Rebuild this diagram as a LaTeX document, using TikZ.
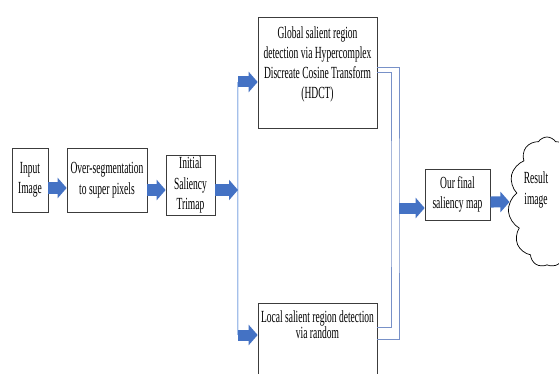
\documentclass[tikz,border=0pt]{standalone}
\usepackage{fontspec}
\setmainfont{Liberation Serif}[FakeStretch=0.56]
\usetikzlibrary{arrows.meta,shapes.symbols}
\definecolor{arrowblue}{RGB}{68,114,196}
\definecolor{lineblue}{RGB}{165,192,234}
\definecolor{bracketblue}{RGB}{120,145,200}
\definecolor{boxgray}{RGB}{60,60,60}
\begin{document}
\begin{tikzpicture}[x=1pt,y=-1pt,
  box/.style={draw=boxgray, line width=0.7pt, align=center, inner sep=1pt,
    font=\fontsize{17}{20.5}\selectfont},
  txt/.style={align=center, inner sep=0pt, font=\fontsize{17}{20.5}\selectfont},
  barrow/.style={draw=arrowblue, line width=11pt, -{Triangle[width=20pt,length=9pt]}},
  vline/.style={draw=lineblue, line width=2pt},
  bline/.style={draw=bracketblue, line width=0.7pt},
]
\useasboundingbox (0,0) rectangle (559,374);

% boxes
\node[box, minimum width=36pt, minimum height=64pt] (in) at (30,180) {Input\\Image};
\node[box, minimum width=80pt, minimum height=64pt] (os) at (107,180) {Over-segmentation\\to super pixels};
\node[box, minimum width=49pt, minimum height=60pt] (tri) at (190.5,185) {Initial\\Saliency\\Trimap};
\node[box, minimum width=119pt, minimum height=111pt] (gl) at (317.5,72.5) {};
\node[txt, font=\fontsize{17}{20}\selectfont] (glt) at (317.5,64) {Global salient region\\detection via Hypercomplex\\Discreate Cosine Transform\\(HDCT)};
\node[box, minimum width=119pt, minimum height=82pt] (lo) at (317.5,344) {};
\node[txt, font=\fontsize{17}{16}\selectfont] (lot) at (317.5,325) {Local salient region detection\\via random};
\node[box, minimum width=65pt, minimum height=51pt] (fin) at (457.5,194.5) {Our final\\saliency map};
\node[cloud, draw=black, line width=0.7pt, cloud puffs=11, cloud puff arc=115,
      aspect=0.6, minimum width=78pt, minimum height=130pt, inner sep=0pt] (cl) at (547,202) {};
\node[txt] (clt) at (536,190) {Result\\image};

% helper coordinates
\coordinate (ltop) at (238,82);
\coordinate (lmid) at (238,190);
\coordinate (lbot) at (238,335);
\coordinate (rox) at (399,208);
\coordinate (rix) at (391,208);

% left splitter line
\draw[vline] (ltop) -- (lbot);
\draw[draw=white!60!lineblue, line width=0.6pt] (ltop) -- (lbot);

% right bracket lines
\draw[bline] ([yshift=5.5pt]gl.east) -| (rox) |- ([yshift=5pt]lo.east);
\draw[bline] ([yshift=0.5pt]gl.east) -| (rix) |- ([yshift=17pt]lo.east);

% block arrows
\draw[barrow] ([yshift=-8pt]in.east) -- ([yshift=-8pt]os.west);
\draw[barrow] ([yshift=-10pt]os.east) -- ([yshift=-5pt]tri.west);
\draw[barrow] ([yshift=-5pt]tri.east) -- (lmid);
\draw[barrow] (ltop) -- ([yshift=-9.5pt]gl.west);
\draw[barrow] (lbot) -- ([yshift=9pt]lo.west);
\draw[barrow] (rox) -- ([yshift=-13.5pt]fin.west);
\draw[barrow] ([yshift=-7.5pt]fin.east) -- (cl.west);
\end{tikzpicture}
\end{document}
